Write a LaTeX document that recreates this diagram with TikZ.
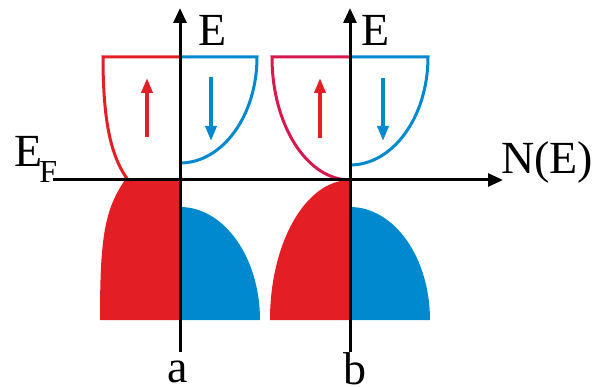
\documentclass[tikz,border=0pt]{standalone}
\usepackage{fontspec}
\setmainfont{Liberation Serif}
\usetikzlibrary{arrows.meta}
\definecolor{spinred}{RGB}{227,30,36}
\definecolor{spinblue}{RGB}{0,137,206}
\definecolor{crimson}{RGB}{214,26,80}
\begin{document}
\begin{tikzpicture}[x=1pt,y=-1pt,
  axis/.style={line width=3pt,-{Triangle[length=15pt,width=13pt]}},
  bandline/.style={line width=3pt},
  spinarrow/.style={line width=3.5pt,-{Triangle[length=15pt,width=11pt]}},
  lbl/.style={font=\fontsize{46}{50}\selectfont,inner sep=0pt}]
\useasboundingbox (0,0) rectangle (602,387);
% upper bands (a)
\draw[bandline,spinred] (180,57) -- (103,57) .. controls (103,125) and (112,158) .. (128,180);
\draw[bandline,spinblue] (180,57) -- (257,57) .. controls (257,115.5) and (222.5,163) .. (180,163);
% upper bands (b)
\draw[bandline,crimson] (350,57) -- (272,57) .. controls (272,125) and (307,180) .. (350,180);
\draw[bandline,spinblue] (350,57) -- (428,57) .. controls (428,116.6) and (393,165) .. (350,165);
% lower bands (a)
\fill[spinred] (180,320) -- (180,180) -- (125,180) .. controls (104,210) and (100,240) .. (100,320) -- cycle;
\fill[spinblue] (180,320) -- (180,207) .. controls (224.2,207) and (260,257.6) .. (260,320) -- cycle;
% lower bands (b)
\fill[spinred] (350,320) -- (350,180) .. controls (305.8,180) and (270,242.7) .. (270,320) -- cycle;
\fill[spinblue] (350,320) -- (350,207) .. controls (394.2,207) and (430,257.6) .. (430,320) -- cycle;
% axes
\coordinate (aBot) at (180,352);
\coordinate (aTop) at (180,8);
\coordinate (bBot) at (350,352);
\coordinate (bTop) at (350,8);
\coordinate (hL) at (53,180);
\coordinate (hR) at (503,180);
\draw[axis] (aBot) -- (aTop);
\draw[axis] (bBot) -- (bTop);
\draw[axis] (hL) -- (hR);
% spin arrows
\coordinate (ra1) at (147,137); \coordinate (ra2) at (147,78);
\coordinate (ba1) at (211,77); \coordinate (ba2) at (211,141);
\coordinate (rb1) at (320,138); \coordinate (rb2) at (320,78);
\coordinate (bb1) at (383,78); \coordinate (bb2) at (383,141);
\draw[spinarrow,spinred] (ra1) -- (ra2);
\draw[spinarrow,spinblue] (ba1) -- (ba2);
\draw[spinarrow,spinred] (rb1) -- (rb2);
\draw[spinarrow,spinblue] (bb1) -- (bb2);
% labels
\node[lbl,anchor=base west] (Ea) at (198,46) {E};
\node[lbl,anchor=base west] (Eb) at (361,46) {E};
\node[lbl,anchor=base west] (EF) at (14,167) {E\kern-3pt\raisebox{-16pt}{\fontsize{32}{36}\selectfont F}};
\node[lbl,anchor=base west] (NE) at (501,174) {N(E)};
\node[lbl,anchor=base] (la) at (178,382) {a};
\node[lbl,anchor=base] (lb) at (355,384) {b};
\end{tikzpicture}
\end{document}
